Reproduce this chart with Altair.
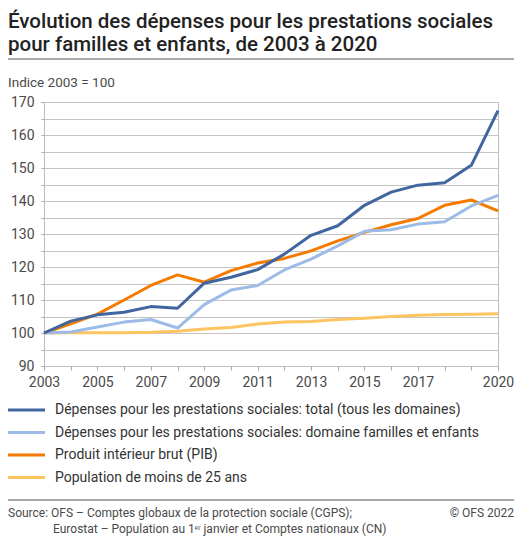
import altair as alt
import pandas as pd

# ---------------- data ----------------
years = list(range(2003, 2021))
total = [100, 103.6, 105.5, 106.3, 108.0, 107.5, 115.1, 116.9, 119.2, 123.9,
         129.6, 132.5, 138.7, 142.7, 144.8, 145.5, 150.8, 167.4]
famille = [100, 100.3, 101.8, 103.3, 104.1, 101.5, 108.6, 113.0, 114.4, 119.1,
           122.4, 126.4, 130.8, 131.3, 133.0, 133.7, 138.5, 141.7]
pib = [100, 102.8, 105.7, 110.0, 114.4, 117.6, 115.4, 118.9, 121.2, 122.6,
       124.9, 127.9, 130.5, 132.8, 134.7, 138.7, 140.3, 137.0]
pop = [100, 100.1, 100.1, 100.1, 100.2, 100.5, 101.2, 101.7, 102.7, 103.3,
       103.5, 104.1, 104.5, 105.0, 105.4, 105.6, 105.7, 105.8]

series_names = [
    "Dépenses pour les prestations sociales: total (tous les domaines)",
    "Dépenses pour les prestations sociales: domaine familles et enfants",
    "Produit intérieur brut (PIB)",
    "Population de moins de 25 ans",
]
series_values = [total, famille, pib, pop]
series_colors = ["#41669f", "#9cbbe6", "#f47b00", "#fec462"]

x_label_years = [2003, 2005, 2007, 2009, 2011, 2013, 2015, 2017, 2020]
y_ticks = list(range(90, 171, 5))

title_lines = ["Évolution des dépenses pour les prestations sociales",
               "pour familles et enfants, de 2003 à 2020"]
y_title = "Indice 2003 = 100"
source_lines = ["Source: OFS – Comptes globaux de la protection sociale (CGPS);",
                "Eurostat – Population au 1ᵉʳ janvier et Comptes nationaux (CN)"]
copyright_text = "© OFS 2022"

# ---------------- tables ----------------
df = pd.DataFrame([
    {"year": y, "value": v, "series": name}
    for name, vals in zip(series_names, series_values)
    for y, v in zip(years, vals)
])
legend_df = pd.DataFrame({"series": series_names, "row": list(range(len(series_names)))})

FONT = "Roboto"
W, H = 454, 264
PAD_L, PAD_T, PAD_R, PAD_B = 36, 94, 16, 176
TXT = "#4a4a4a"

cscale = alt.Scale(domain=series_names, range=series_colors)

x_enc = alt.X(
    "year:Q",
    scale=alt.Scale(domain=[2003, 2020], nice=False, zero=False),
    axis=alt.Axis(
        values=years, format="d", grid=False, title=None,
        labelExpr="indexof(" + str(x_label_years) + ", datum.value) >= 0 ? datum.label : ''",
        tickSize=4, tickColor="#a8a8a8", domainColor="#bdbdbd",
        labelPadding=5, labelFontSize=14, labelColor=TXT, labelFont=FONT,
        labelOverlap=False, labelFlush=False,
    ),
)
y_enc = alt.Y(
    "value:Q",
    scale=alt.Scale(domain=[90, 170], nice=False, zero=False),
    axis=alt.Axis(
        values=y_ticks, title=None, grid=True, gridColor="#c4c4c4",
        labelExpr="datum.value % 10 == 0 ? datum.label : ''",
        tickSize=3, tickColor="#a8a8a8", domainColor="#bdbdbd",
        labelPadding=7, labelFontSize=14, labelColor=TXT, labelFont=FONT,
        labelOverlap=False,
    ),
)

line_layers = []
for name in reversed(series_names):
    line_layers.append(
        alt.Chart(df[df.series == name]).mark_line(strokeWidth=3, strokeJoin="round").encode(
            x=x_enc, y=y_enc,
            color=alt.Color("series:N", scale=cscale, legend=None),
        )
    )
lines = alt.layer(*line_layers)

# custom legend
leg_y = alt.Y("row:O", scale=alt.Scale(type="point", range=[308, 375.5], padding=0), axis=None)
leg_rule = alt.Chart(legend_df).mark_rule(strokeWidth=3).encode(
    x=alt.value(-36), x2=alt.value(1), y=leg_y,
    color=alt.Color("series:N", scale=cscale, legend=None),
)
leg_text = alt.Chart(legend_df).mark_text(
    align="left", baseline="middle", fontSize=14, font=FONT, color="#333"
).encode(x=alt.value(11), y=leg_y, text="series:N")
legend = alt.layer(leg_rule, leg_text)


def text_layer(txt, x, y, size, color=TXT, weight=400, align="left"):
    return alt.Chart(pd.DataFrame({"t": [txt]})).mark_text(
        align=align, baseline="alphabetic", fontSize=size, font=FONT,
        fontWeight=weight, color=color,
    ).encode(x=alt.value(x), y=alt.value(y), text="t:N")


def hrule(y):
    return alt.Chart(pd.DataFrame({"a": [0]})).mark_rule(color="#555", strokeWidth=1).encode(
        x=alt.value(-PAD_L), x2=alt.value(W + PAD_R), y=alt.value(y)
    )


deco = [
    text_layer(title_lines[0], -36, -74.5, 20.5, "#222", 500),
    text_layer(title_lines[1], -36, -51.5, 20.5, "#222", 500),
    hrule(-43),
    text_layer(y_title, -36, -15.5, 13.5, TXT),
    hrule(398),
    text_layer(source_lines[0], -36, 415, 12, TXT),
    text_layer(source_lines[1], 9, 431, 12, TXT),
    text_layer(copyright_text, W + PAD_R, 415, 12, TXT, align="right"),
]

chart = alt.layer(lines, legend, *deco).resolve_scale(y="independent").properties(
    width=W, height=H,
    autosize=alt.AutoSizeParams(type="none"),
    padding={"left": PAD_L, "top": PAD_T, "right": PAD_R, "bottom": PAD_B},
).configure_view(stroke="#bdbdbd", strokeWidth=1)

chart.save("out.html", embed_options={"renderer": "svg", "actions": False})
